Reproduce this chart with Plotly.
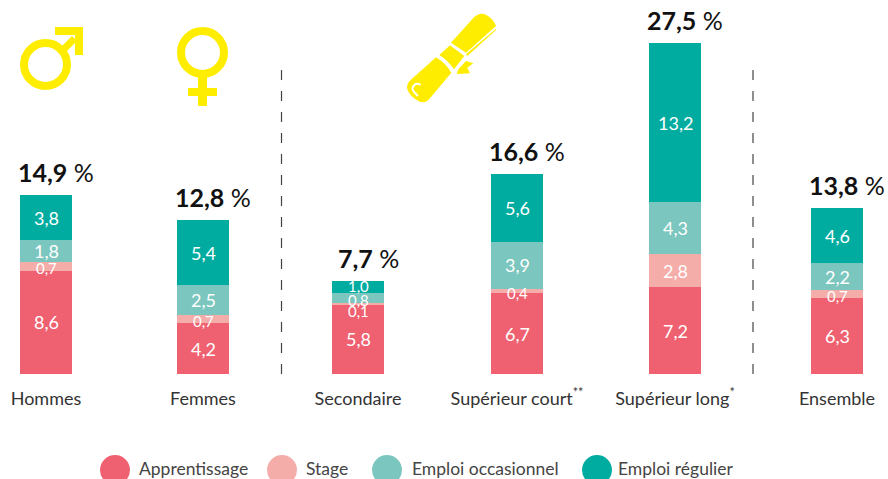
import plotly.graph_objects as go

categories = ["Hommes", "Femmes", "Secondaire", "Supérieur court<sup>**</sup>", "Supérieur long<sup>*</sup>", "Ensemble"]
apprentissage = [8.6, 4.2, 5.8, 6.7, 7.2, 6.3]
stage = [0.7, 0.7, 0.1, 0.4, 2.8, 0.7]
occasionnel = [1.8, 2.5, 0.8, 3.9, 4.3, 2.2]
regulier = [3.8, 5.4, 1.0, 5.6, 13.2, 4.6]
totals = [14.9, 12.8, 7.7, 16.6, 27.5, 13.8]
series_names = ["Apprentissage", "Stage", "Emploi occasionnel", "Emploi régulier"]

W, H = 888, 479
BASE = 374
BAR_W = 52
centers = [46, 203, 358, 517, 675, 837]
colors = ["#EF6170", "#F5ADAA", "#7BC6BE", "#00ACA0"]
YEL = "#FFED00"
FONT = "Lato"


def fr(v):
    return f"{v:.1f}".replace(".", ",")


def P(x, y):
    return f"{x:.2f} {1 - y / BASE:.4f}"


def path(cmds):
    return " ".join(c + " " + " ".join(P(*p) for p in pts) for c, *pts in cmds)


def dip(x, y):
    return (390 + x / 3, y / 3)


fig = go.Figure()
annotations = []
stack = [0.0] * len(centers)
for name, vals, col in zip(series_names, [apprentissage, stage, occasionnel, regulier], colors):
    fig.add_bar(x=centers, y=vals, name=name, width=BAR_W, marker=dict(color=col, line_width=0), cliponaxis=False)
    for i, v in enumerate(vals):
        # segment labels sit above every bar so thin segments are not painted over
        thin = v <= 1.0
        shift = -7 if v < 0.3 else (1 if v == 1.0 else (-2 if thin else 0))
        annotations.append(dict(x=centers[i], y=stack[i] + v / 2, xref="x", yref="y", text=fr(v), showarrow=False,
                                xanchor="center", yanchor="middle", yshift=shift, borderpad=0,
                                font=dict(color="white", size=15 if thin else 18, family=FONT)))
        stack[i] += v

shapes = []
for x in (281.5, 753):
    shapes.append(dict(type="line", xref="x", yref="paper", x0=x, x1=x, y0=0, y1=1 - 66 / BASE,
                       line=dict(color="#444444", width=1.2, dash="10px,11px")))


def fill(d, color=YEL, lw=0, lc=None, fc=None):
    shapes.append(dict(type="path", xref="x", yref="paper", path=d,
                       fillcolor=fc if fc is not None else color,
                       line=dict(width=lw, color=lc or color)))


def ring(cx, cy, r, width, color=YEL):
    shapes.append(dict(type="circle", xref="x", yref="paper", x0=cx - r, x1=cx + r,
                       y0=1 - (cy + r) / BASE, y1=1 - (cy - r) / BASE,
                       fillcolor="rgba(0,0,0,0)", line=dict(color=color, width=width)))


# male icon
ring(45.5, 64.5, 21.5, 8)
fill(path([("M", (60, 48)), ("L", (72, 36)), ("L", (77, 41)), ("L", (65, 53)), ("Z",)]))
fill(path([("M", (55, 27)), ("L", (83, 27)), ("L", (83, 55)), ("L", (75, 55)), ("L", (75, 35)), ("L", (55, 35)), ("Z",)]))
# female icon
ring(202.5, 52.5, 21.5, 8)
fill(path([("M", (198, 76)), ("L", (207, 76)), ("L", (207, 88)), ("L", (217, 88)), ("L", (217, 96)), ("L", (207, 96)),
           ("L", (207, 106)), ("L", (198, 106)), ("L", (198, 96)), ("L", (188, 96)), ("L", (188, 88)), ("L", (198, 88)), ("Z",)]))
# diploma icon
fill(path([("M", dip(183, 128)), ("L", dip(252, 52)), ("Q", dip(268, 36), dip(288, 44)), ("Q", dip(310, 56), dip(318, 78)),
           ("L", dip(228, 158)), ("Z",)]))
fill(path([("M", dip(318, 90)), ("L", dip(232, 168)), ("L", dip(228, 163)), ("L", dip(318, 86)), ("Z",)]))
fill(path([("M", dip(180, 136)), ("L", dip(223, 168)), ("L", dip(192, 208)), ("Q", dip(175, 182), dip(148, 165)), ("Z",)]))
fill(path([("M", dip(138, 172)), ("Q", dip(166, 188), dip(184, 218)), ("L", dip(120, 295)), ("Q", dip(104, 314), dip(84, 302)),
           ("Q", dip(60, 290), dip(52, 268)), ("Q", dip(48, 252), dip(62, 240)), ("Z",)]))
fill(path([("M", dip(205, 208)), ("L", dip(228, 183)), ("L", dip(250, 190)), ("L", dip(232, 203)), ("L", dip(240, 220)), ("L", dip(200, 222)), ("Z",)]))
fill(path([("M", dip(92, 255)), ("Q", dip(84, 248), dip(74, 254)), ("Q", dip(62, 264), dip(72, 276)), ("L", dip(84, 288))]),
     lw=2, lc="white", fc="rgba(0,0,0,0)")

# legend
legend_cx = [115, 282, 387, 597]
legend_tx = [138, 305, 411, 617]
for name, col, cx, tx in zip(series_names, colors, legend_cx, legend_tx):
    shapes.append(dict(type="circle", xref="x", yref="paper", x0=cx - 15, x1=cx + 15,
                       y0=1 - 485 / BASE, y1=1 - 455 / BASE, fillcolor=col, line_width=0))
    annotations.append(dict(x=tx, y=1 - 469 / BASE, xref="x", yref="paper", text=name, showarrow=False,
                            xanchor="left", yanchor="middle", borderpad=0,
                            font=dict(size=17.5, color="#444444", family=FONT)))

for c, t in zip(centers, totals):
    annotations.append(dict(x=c + 10, y=t, xref="x", yref="y", text=f"<b>{fr(t)}</b> %", showarrow=False,
                            xanchor="center", yanchor="bottom", yshift=6,
                            font=dict(size=25, color="#111111", family=FONT)))

fig.update_layout(
    width=W, height=H, autosize=False, barmode="stack", showlegend=False,
    margin=dict(l=0, r=0, t=0, b=H - BASE, pad=0),
    paper_bgcolor="white", plot_bgcolor="white",
    font=dict(family=FONT),
    xaxis=dict(range=[0, W], tickmode="array", tickvals=centers, ticktext=categories, showgrid=False,
               zeroline=False, showline=False, ticks="", ticklabelstandoff=12,
               tickfont=dict(size=18, color="#333333", family=FONT), fixedrange=True),
    yaxis=dict(range=[0, BASE / 12.03], visible=False, fixedrange=True),
    shapes=shapes, annotations=annotations,
)
fig.write_html("out.html", config={"displayModeBar": False},
               post_script="document.body.style.margin='0';document.documentElement.style.overflow='hidden';")
